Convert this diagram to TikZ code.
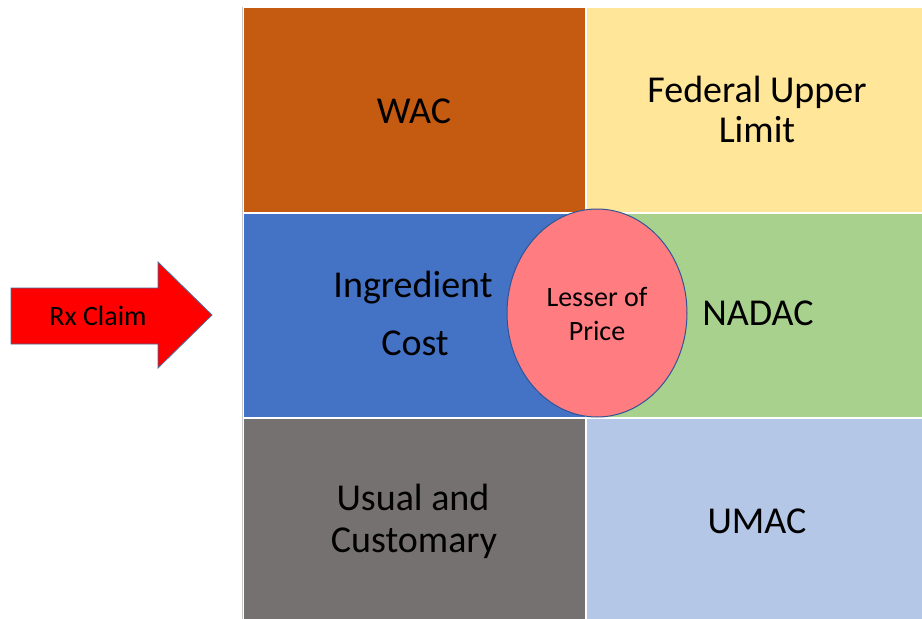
\documentclass[tikz,border=0pt]{standalone}
\usepackage{fontspec}
\setmainfont{Carlito}
\usetikzlibrary{shapes.geometric}
\definecolor{wacc}{HTML}{C55A11}
\definecolor{fulc}{HTML}{FFE699}
\definecolor{ingc}{HTML}{4472C4}
\definecolor{nadacc}{HTML}{A9D18E}
\definecolor{ucc}{HTML}{767171}
\definecolor{umacc}{HTML}{B4C7E7}
\definecolor{lesserc}{HTML}{FF7C80}
\definecolor{ringc}{HTML}{2F5597}
\definecolor{arrowedge}{HTML}{41719C}
\definecolor{rulec}{HTML}{C8C8C8}
\begin{document}
\begin{tikzpicture}[x=1pt,y=-1pt,
  cell/.style={draw=none, inner sep=0pt, anchor=north west},
  big/.style={font=\fontsize{38}{40}\selectfont, anchor=base, inner sep=0pt},
  small/.style={font=\fontsize{28}{30}\selectfont, anchor=base, inner sep=0pt}]
\useasboundingbox[fill=white] (0,0) rectangle (922,619);
% cells
\node[cell, fill=wacc,   minimum width=341pt, minimum height=204pt] (wac)   at (244,8)   {};
\node[cell, fill=fulc,   minimum width=335pt, minimum height=204pt] (ful)   at (587,8)   {};
\node[cell, fill=ingc,   minimum width=341pt, minimum height=203pt] (ing)   at (244,214) {};
\node[cell, fill=nadacc, minimum width=335pt, minimum height=203pt] (nadac) at (587,214) {};
\node[cell, fill=ucc,    minimum width=341pt, minimum height=200pt] (uc)    at (244,419) {};
\node[cell, fill=umacc,  minimum width=335pt, minimum height=200pt] (umac)  at (587,419) {};
% left rule
\coordinate (ruletop) at (242.5,7);
\coordinate (rulebot) at (242.5,619);
\draw[rulec, line width=1.5pt] (ruletop) -- (rulebot);
% cell texts
\node[big] (twac) at (414,123) {WAC};
\node[big] (tful1) at (757,102) {Federal Upper};
\node[big] (tful2) at (757,142) {Limit};
\node[big] (ting1) at (413,297) {Ingredient};
\node[big] (ting2) at (415,355) {Cost};
\node[big] (tnadac) at (758,325) {NADAC};
\node[big] (tuc1) at (413,510) {Usual and};
\node[big] (tuc2) at (414,552) {Customary};
\node[big] (tumac) at (757,533) {UMAC};
% circle
\node[ellipse, draw=ringc, line width=1pt, fill=lesserc, minimum width=180pt, minimum height=208pt, inner sep=0pt] (lesser) at (597,313) {};
\node[small] (tles1) at (597,306) {Lesser of};
\node[small] (tles2) at (597,340) {Price};
% arrow
\draw[arrowedge, fill=red, line width=0.8pt, line join=miter]
  (11,288) -- (158,288) -- (158,262) -- (212,315) -- (158,368) -- (158,344) -- (11,344) -- cycle;
\node[small] (rx) at (98,325) {Rx Claim};
\end{tikzpicture}
\end{document}
